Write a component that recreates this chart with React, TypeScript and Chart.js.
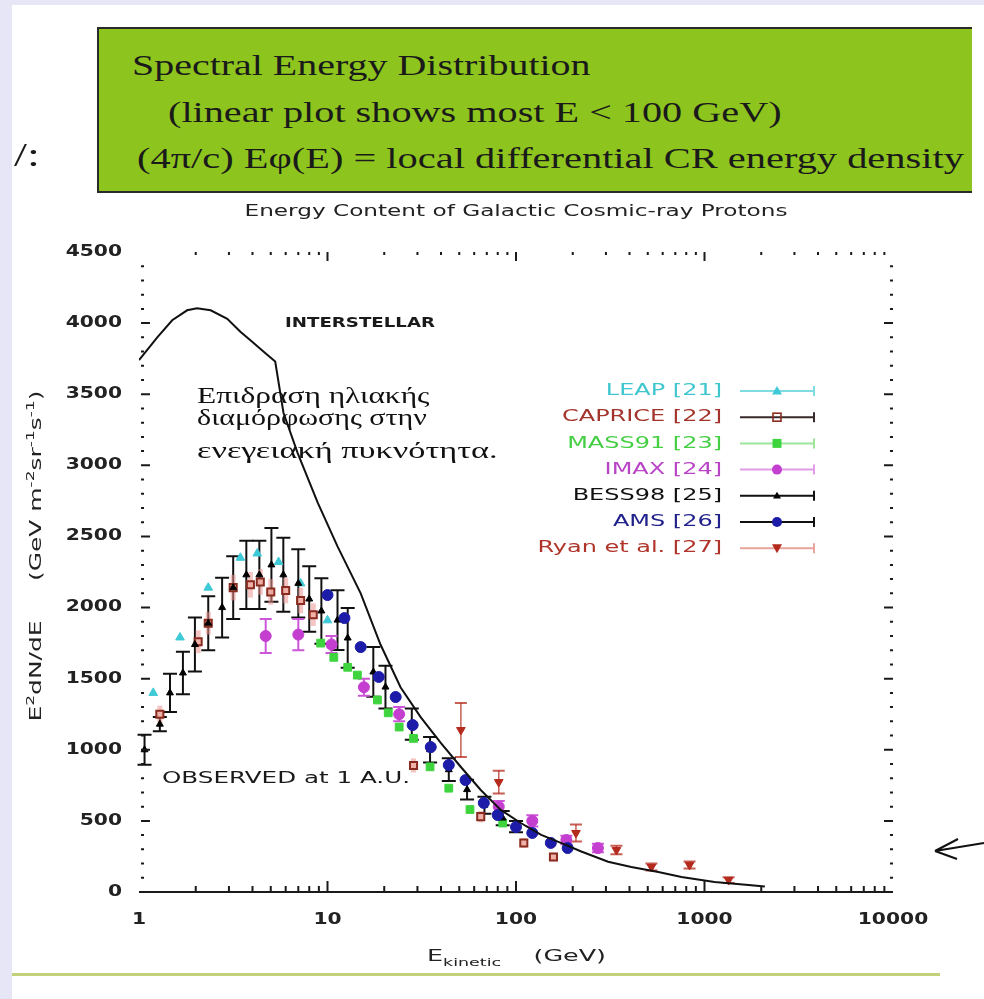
import React, { useEffect, useLayoutEffect, useRef, useState } from "react";
import { Chart, registerables } from "chart.js";
Chart.register(...registerables);

// ---------------- data ----------------
const yTickValues = [0, 500, 1000, 1500, 2000, 2500, 3000, 3500, 4000, 4500];
const yTickLabels = ["0", "500", "1000", "1500", "2000", "2500", "3000", "3500", "4000", "4500"];
const xTickValues = [1, 10, 100, 1000, 10000];
const xTickLabels = ["1", "10", "100", "1000", "10000"];
const xMinorMultipliers = [2, 3, 4, 5, 6, 7, 8, 9];

const interstellarE = [1.0, 1.25, 1.5, 1.8, 2.03, 2.4, 2.94, 3.45, 3.9, 4.67, 5.28, 5.84, 6.93, 8.86, 11.3, 15.0, 19.1, 24.4, 31.2, 39.9, 51, 65, 83, 106, 136, 173, 222, 308, 409, 569, 755, 1130, 1713, 2090];
const interstellarV = [3740, 3900, 4020, 4090, 4105, 4090, 4030, 3940, 3880, 3790, 3730, 3370, 3090, 2740, 2430, 2100, 1740, 1440, 1230, 1048, 879, 717, 577, 485, 401, 345, 285, 213, 176, 141, 105, 70, 49, 38];

const leapE = [1.19, 1.65, 2.33, 3.45, 4.24, 5.5, 7.2, 10.0];
const leapV = [1400, 1790, 2140, 2350, 2380, 2320, 2170, 1910];

const capriceE = [1.29, 2.06, 2.33, 3.16, 3.9, 4.4, 5.0, 6.0, 7.2, 8.4, 28.6, 65, 110, 158];
const capriceV = [1250, 1760, 1890, 2140, 2160, 2180, 2110, 2120, 2050, 1950, 890, 530, 345, 246];
const capriceErr = [60, 80, 80, 90, 90, 90, 90, 90, 90, 80, 50, 40, 35, 30];

const mass91E = [9.2, 10.8, 12.8, 14.4, 18.4, 21, 24, 28.6, 35, 44, 57, 85];
const mass91V = [1750, 1650, 1580, 1525, 1350, 1260, 1160, 1080, 880, 730, 580, 485];

const imaxE = [4.7, 7.0, 10.5, 15.6, 24, 81, 122, 185, 272];
const imaxV = [1800, 1810, 1740, 1440, 1250, 600, 500, 366, 309];
const imaxErr = [120, 110, 60, 60, 50, 40, 40, 30, 30];

const bessE = [1.07, 1.29, 1.46, 1.71, 1.98, 2.33, 2.76, 3.16, 3.71, 4.35, 5.04, 5.83, 7.0, 8.0, 9.28, 11.3, 12.8, 17.5, 20.3, 28, 35, 44, 55, 68, 85, 100];
const bessV = [1000, 1180, 1400, 1540, 1740, 1890, 2000, 2140, 2230, 2230, 2300, 2230, 2170, 2060, 1976, 1912, 1786, 1547, 1441, 1180, 1000, 860, 720, 610, 520, 460];
const bessErr = [105, 50, 135, 150, 190, 190, 210, 220, 240, 240, 260, 260, 240, 230, 230, 210, 210, 175, 150, 110, 90, 80, 70, 60, 50, 40];

const amsE = [10.0, 12.3, 15.0, 18.7, 23, 28.3, 35.3, 44, 54, 67.5, 80, 100, 122, 153, 188];
const amsV = [2088, 1926, 1722, 1512, 1371, 1174, 1019, 893, 787, 626, 541, 457, 415, 345, 309];

const ryanE = [51, 81, 208, 341, 523, 833, 1342];
const ryanV = [1139, 773, 415, 295, 176, 190, 84];
const ryanErr = [190, 80, 60, 30, 25, 25, 20];

const legendLabels = ["LEAP [21]", "CAPRICE [22]", "MASS91 [23]", "IMAX [24]", "BESS98 [25]", "AMS [26]", "Ryan et al. [27]"];
const legendTextColors = ["#3fc6cf", "#a3342c", "#45cf45", "#b944c6", "#111111", "#22228c", "#b0342a"];
const legendLineColors = ["#7fdde2", "#3a2a2a", "#9be69b", "#e09ce6", "#111111", "#111111", "#e8a39b"];
const legendMarkers = ["triangle", "openSquare", "square", "circle", "smallTriangle", "circle", "downTriangle"];
const legendMarkerColors = ["#3ec9d6", "#8a2b20", "#3ed43e", "#c43fd0", "#000000", "#1c1ca8", "#b42a1c"];

const chartTitle = "Energy Content of Galactic Cosmic-ray Protons";
const interstellarLabel = "INTERSTELLAR";
const observedLabel = "OBSERVED at 1 A.U.";

const SANS = "'DejaVu Sans', sans-serif";

type Seg = { t: string; s?: "sup" | "sub" };

function segFont(base: number, weight: string, s?: string) {
  const size = s ? Math.round(base * 0.68) : base;
  return `${weight} ${size}px ${SANS}`;
}
function richMeasure(ctx: CanvasRenderingContext2D, segs: Seg[], base: number, weight: string) {
  let w = 0;
  for (const g of segs) {
    ctx.font = segFont(base, weight, g.s);
    w += ctx.measureText(g.t).width;
  }
  return w;
}
function richDraw(ctx: CanvasRenderingContext2D, segs: Seg[], x: number, y: number, base: number, weight: string, sx: number) {
  ctx.save();
  ctx.translate(x, y);
  ctx.scale(sx, 1);
  ctx.textBaseline = "middle";
  ctx.textAlign = "left";
  let cx = 0;
  for (const g of segs) {
    ctx.font = segFont(base, weight, g.s);
    const dy = g.s === "sup" ? -base * 0.38 : g.s === "sub" ? base * 0.38 : 0;
    ctx.fillText(g.t, cx, dy);
    cx += ctx.measureText(g.t).width;
  }
  ctx.restore();
}
function drawScaled(ctx: CanvasRenderingContext2D, text: string, x: number, y: number, sx: number, align: "left" | "right" | "center") {
  const w = ctx.measureText(text).width * sx;
  const x0 = align === "left" ? x : align === "right" ? x - w : x - w / 2;
  ctx.save();
  ctx.translate(x0, y);
  ctx.scale(sx, 1);
  ctx.textAlign = "left";
  ctx.textBaseline = "middle";
  ctx.fillText(text, 0, 0);
  ctx.restore();
}
function drawFit(ctx: CanvasRenderingContext2D, text: string, x: number, y: number, width: number, align: "left" | "right" | "center") {
  const w = ctx.measureText(text).width;
  drawScaled(ctx, text, x, y, width / w, align);
}

function drawMarker(ctx: CanvasRenderingContext2D, kind: string, x: number, y: number, color: string) {
  ctx.save();
  ctx.fillStyle = color;
  ctx.strokeStyle = color;
  ctx.beginPath();
  if (kind === "triangle" || kind === "smallTriangle") {
    const r = kind === "triangle" ? 5 : 4;
    ctx.moveTo(x, y - r);
    ctx.lineTo(x + r, y + r * 0.7);
    ctx.lineTo(x - r, y + r * 0.7);
    ctx.closePath();
    ctx.fill();
  } else if (kind === "downTriangle") {
    ctx.moveTo(x, y + 5);
    ctx.lineTo(x + 5, y - 4);
    ctx.lineTo(x - 5, y - 4);
    ctx.closePath();
    ctx.fill();
  } else if (kind === "square") {
    ctx.fillRect(x - 4.5, y - 4.5, 9, 9);
  } else if (kind === "openSquare") {
    ctx.lineWidth = 1.6;
    ctx.strokeRect(x - 4, y - 4, 8, 8);
  } else {
    ctx.arc(x, y, 5, 0, Math.PI * 2);
    ctx.fill();
  }
  ctx.restore();
}

const pts = (xs: number[], ys: number[]) => xs.map((x, i) => ({ x, y: ys[i] }));

const errorBarPlugin = {
  id: "errorBars",
  beforeDatasetsDraw(chart: any) {
    const ctx: CanvasRenderingContext2D = chart.ctx;
    const ys = chart.scales.y;
    chart.data.datasets.forEach((ds: any, i: number) => {
      if (!ds.errors) return;
      const meta = chart.getDatasetMeta(i);
      ctx.save();
      ctx.strokeStyle = ds.errColor;
      ctx.lineWidth = ds.errWidth;
      meta.data.forEach((pt: any, j: number) => {
        const v = ds.data[j].y;
        const e = ds.errors[j];
        const y1 = ys.getPixelForValue(v + e);
        const y2 = ys.getPixelForValue(v - e);
        ctx.beginPath();
        ctx.moveTo(pt.x, y1);
        ctx.lineTo(pt.x, y2);
        ctx.stroke();
        if (ds.errCap > 0) {
          ctx.lineWidth = 2;
          ctx.beginPath();
          ctx.moveTo(pt.x - ds.errCap, y1);
          ctx.lineTo(pt.x + ds.errCap, y1);
          ctx.moveTo(pt.x - ds.errCap, y2);
          ctx.lineTo(pt.x + ds.errCap, y2);
          ctx.stroke();
          ctx.lineWidth = ds.errWidth;
        }
      });
      ctx.restore();
    });
  },
};

const decorPlugin = {
  id: "decor",
  afterDraw(chart: any) {
    const ctx: CanvasRenderingContext2D = chart.ctx;
    const xs = chart.scales.x;
    const ys = chart.scales.y;
    const { left, right, top, bottom } = chart.chartArea;
    ctx.save();
    ctx.strokeStyle = "#1a1a1a";
    ctx.fillStyle = "#1a1a1a";
    ctx.lineWidth = 2;
    // x axis line
    ctx.beginPath();
    ctx.moveTo(left, bottom);
    ctx.lineTo(right, bottom);
    ctx.stroke();
    // x ticks
    for (let d = 0; d < xTickValues.length - 1; d++) {
      for (const m of xMinorMultipliers) {
        const px = xs.getPixelForValue(xTickValues[d] * m);
        ctx.beginPath();
        ctx.moveTo(px, bottom);
        ctx.lineTo(px, bottom - 6);
        ctx.moveTo(px, top);
        ctx.lineTo(px, top + 3);
        ctx.stroke();
      }
    }
    for (let i = 1; i < xTickValues.length - 1; i++) {
      const px = xs.getPixelForValue(xTickValues[i]);
      ctx.beginPath();
      ctx.moveTo(px, bottom);
      ctx.lineTo(px, bottom - 11);
      ctx.moveTo(px, top);
      ctx.lineTo(px, top + 9);
      ctx.stroke();
    }
    // y ticks (left and right)
    for (let v = 100; v < 4500; v += 100) {
      const py = ys.getPixelForValue(v);
      const major = v % 500 === 0;
      ctx.beginPath();
      ctx.moveTo(left + 2, py);
      ctx.lineTo(left + (major ? 11 : 5), py);
      ctx.moveTo(right, py);
      ctx.lineTo(right - (major ? 9 : 3), py);
      ctx.stroke();
    }
    // tick labels
    ctx.font = `bold 15px ${SANS}`;
    ctx.fillStyle = "#222";
    yTickValues.forEach((v, i) => {
      drawScaled(ctx, yTickLabels[i], 122, ys.getPixelForValue(v), 1.35, "right");
    });
    xTickValues.forEach((v, i) => {
      drawScaled(ctx, xTickLabels[i], xs.getPixelForValue(v), 920, 1.35, "center");
    });
    // title
    ctx.font = `16px ${SANS}`;
    ctx.fillStyle = "#222";
    drawFit(ctx, chartTitle, (left + right) / 2, 212, 543, "center");
    // axis titles
    const ySegs: Seg[] = [
      { t: "E" }, { t: "2", s: "sup" }, { t: "dN/dE     (GeV m" }, { t: "-2", s: "sup" },
      { t: "sr" }, { t: "-1", s: "sup" }, { t: "s" }, { t: "-1", s: "sup" }, { t: ")" },
    ];
    const yw = richMeasure(ctx, ySegs, 16, "normal");
    ctx.save();
    ctx.translate(37, 556);
    ctx.rotate(-Math.PI / 2);
    richDraw(ctx, ySegs, -331 / 2, 0, 16, "normal", 331 / yw);
    ctx.restore();
    const xSegs: Seg[] = [{ t: "E" }, { t: "kinetic", s: "sub" }, { t: "    (GeV)" }];
    const xw = richMeasure(ctx, xSegs, 16, "normal");
    richDraw(ctx, xSegs, 427, 957, 16, "normal", 179 / xw);
    // annotations
    ctx.font = `bold 14px ${SANS}`;
    ctx.fillStyle = "#1a1a1a";
    drawFit(ctx, interstellarLabel, 285, 323, 150, "left");
    ctx.font = `15px ${SANS}`;
    drawFit(ctx, observedLabel, 162, 779, 248, "left");
    // legend
    ctx.font = `16px ${SANS}`;
    const lsx = 160 / ctx.measureText(legendLabels[1]).width;
    legendLabels.forEach((lab, i) => {
      const y = 391 + i * 26.2;
      ctx.fillStyle = legendTextColors[i];
      drawScaled(ctx, lab, 722, y, lsx, "right");
      ctx.strokeStyle = legendLineColors[i];
      ctx.lineWidth = 2;
      ctx.beginPath();
      ctx.moveTo(740, y);
      ctx.lineTo(814, y);
      ctx.moveTo(814, y - 5);
      ctx.lineTo(814, y + 5);
      ctx.stroke();
      drawMarker(ctx, legendMarkers[i], 777, y, legendMarkerColors[i]);
    });
    // hand-drawn arrow at the right
    ctx.strokeStyle = "#111";
    ctx.lineWidth = 2;
    ctx.beginPath();
    ctx.moveTo(984, 843);
    ctx.lineTo(935, 851);
    ctx.moveTo(935, 851);
    ctx.lineTo(958, 839);
    ctx.moveTo(935, 851);
    ctx.lineTo(957, 859);
    ctx.stroke();
    ctx.restore();
  },
};

function FitText(props: { text: string; left: number; cy: number; width: number; font: string; color: string }) {
  const ref = useRef<HTMLSpanElement>(null);
  const [sx, setSx] = useState(1);
  useLayoutEffect(() => {
    if (ref.current) {
      const w = ref.current.offsetWidth;
      if (w > 0) setSx(props.width / w);
    }
  }, [props.text, props.width, props.font]);
  return (
    <span
      ref={ref}
      style={{
        position: "absolute",
        left: props.left,
        top: props.cy,
        transform: `translateY(-50%) scaleX(${sx})`,
        transformOrigin: "left center",
        whiteSpace: "nowrap",
        font: props.font,
        color: props.color,
        lineHeight: 1,
      }}
    >
      {props.text}
    </span>
  );
}

export default function App() {
  const canvasRef = useRef<HTMLCanvasElement>(null);

  useEffect(() => {
    if (!canvasRef.current) return;
    const chart = new Chart(canvasRef.current, {
      type: "scatter",
      data: {
        datasets: [
          {
            label: "INTERSTELLAR",
            data: pts(interstellarE, interstellarV),
            showLine: true,
            borderColor: "#111",
            borderWidth: 2,
            pointRadius: 0,
            tension: 0,
            order: 0,
          } as any,
          {
            label: "AMS",
            data: pts(amsE, amsV),
            pointStyle: "circle",
            pointRadius: 5.5,
            backgroundColor: "#1c1ca8",
            borderColor: "#1c1ca8",
            borderWidth: 1,
            order: 1,
          },
          {
            label: "Ryan",
            data: pts(ryanE, ryanV),
            pointStyle: "triangle",
            rotation: 180,
            pointRadius: 5,
            backgroundColor: "#b42a1c",
            borderColor: "#b42a1c",
            borderWidth: 1,
            order: 2,
            errors: ryanErr,
            errColor: "rgba(180,42,28,0.75)",
            errWidth: 1.5,
            errCap: 6,
          } as any,
          {
            label: "BESS98",
            data: pts(bessE, bessV),
            pointStyle: "triangle",
            pointRadius: 4,
            backgroundColor: "#000",
            borderColor: "#000",
            borderWidth: 1,
            order: 3,
            errors: bessErr,
            errColor: "#111",
            errWidth: 2,
            errCap: 7,
          } as any,
          {
            label: "IMAX",
            data: pts(imaxE, imaxV),
            pointStyle: "circle",
            pointRadius: 5.5,
            backgroundColor: "#c43fd0",
            borderColor: "#c43fd0",
            borderWidth: 1,
            order: 4,
            errors: imaxErr,
            errColor: "#cc55d8",
            errWidth: 2,
            errCap: 6,
          } as any,
          {
            label: "MASS91",
            data: pts(mass91E, mass91V),
            pointStyle: "rect",
            pointRadius: 5.5,
            backgroundColor: "#3ed43e",
            borderColor: "#3ed43e",
            borderWidth: 1,
            order: 5,
          },
          {
            label: "CAPRICE",
            data: pts(capriceE, capriceV),
            pointStyle: "rect",
            pointRadius: 5,
            backgroundColor: "rgba(240,175,165,0.9)",
            borderColor: "#8a2b20",
            borderWidth: 2,
            order: 6,
            errors: capriceErr,
            errColor: "rgba(236,150,145,0.55)",
            errWidth: 5,
            errCap: 0,
          } as any,
          {
            label: "LEAP",
            data: pts(leapE, leapV),
            pointStyle: "triangle",
            pointRadius: 5,
            backgroundColor: "#3ec9d6",
            borderColor: "#3ec9d6",
            borderWidth: 1,
            order: 7,
          },
        ],
      },
      options: {
        animation: false,
        responsive: false,
        devicePixelRatio: 1,
        events: [],
        layout: { padding: { left: 139, right: 91, top: 252, bottom: 107 } },
        scales: {
          x: { type: "logarithmic", min: 1, max: 10000, display: false },
          y: { type: "linear", min: 0, max: 4500, display: false },
        },
        plugins: {
          legend: { display: false },
          tooltip: { enabled: false },
          title: { display: false },
        },
      },
      plugins: [errorBarPlugin, decorPlugin],
    });
    return () => chart.destroy();
  }, []);

  const lav = "#e6e6f6";
  return (
    <div style={{ position: "absolute", left: 0, top: 0, width: 984, height: 999, background: "#fff", overflow: "hidden" }}>
      <div style={{ position: "absolute", left: 0, top: 0, width: 12, height: 999, background: lav }} />
      <div style={{ position: "absolute", left: 0, top: 0, width: 984, height: 5, background: lav }} />
      <canvas ref={canvasRef} width={984} height={999} style={{ position: "absolute", left: 0, top: 0, width: 984, height: 999 }} />
      <div style={{ position: "absolute", left: 12, top: 973, width: 928, height: 3, background: "#c2d27a" }} />
      <div
        style={{
          position: "absolute",
          left: 97,
          top: 27,
          width: 875,
          height: 166,
          background: "#8dc41e",
          border: "2px solid #2a2a2a",
          borderRight: "none",
          boxSizing: "border-box",
        }}
      />
      <FitText text="Spectral Energy Distribution" left={132} cy={65} width={458} font="30px 'Liberation Serif', serif" color="#1a1a1a" />
      <FitText text="(linear plot shows most E < 100 GeV)" left={168} cy={112} width={614} font="30px 'Liberation Serif', serif" color="#1a1a1a" />
      <FitText text="(4π/c) Eφ(E) = local differential CR energy density" left={137} cy={158} width={827} font="30px 'Liberation Serif', serif" color="#1a1a1a" />
      <FitText text="/:" left={14} cy={155} width={26} font="34px 'Liberation Serif', serif" color="#1a1a1a" />
      <FitText text="Επιδραση ηλιακής" left={197} cy={395} width={233} font="24px 'Liberation Serif', serif" color="#111" />
      <FitText text="διαμόρφωσης στην" left={197} cy={417} width={230} font="24px 'Liberation Serif', serif" color="#111" />
      <FitText text="ενεγειακή πυκνότητα." left={197} cy={450} width={300} font="24px 'Liberation Serif', serif" color="#111" />
    </div>
  );
}
